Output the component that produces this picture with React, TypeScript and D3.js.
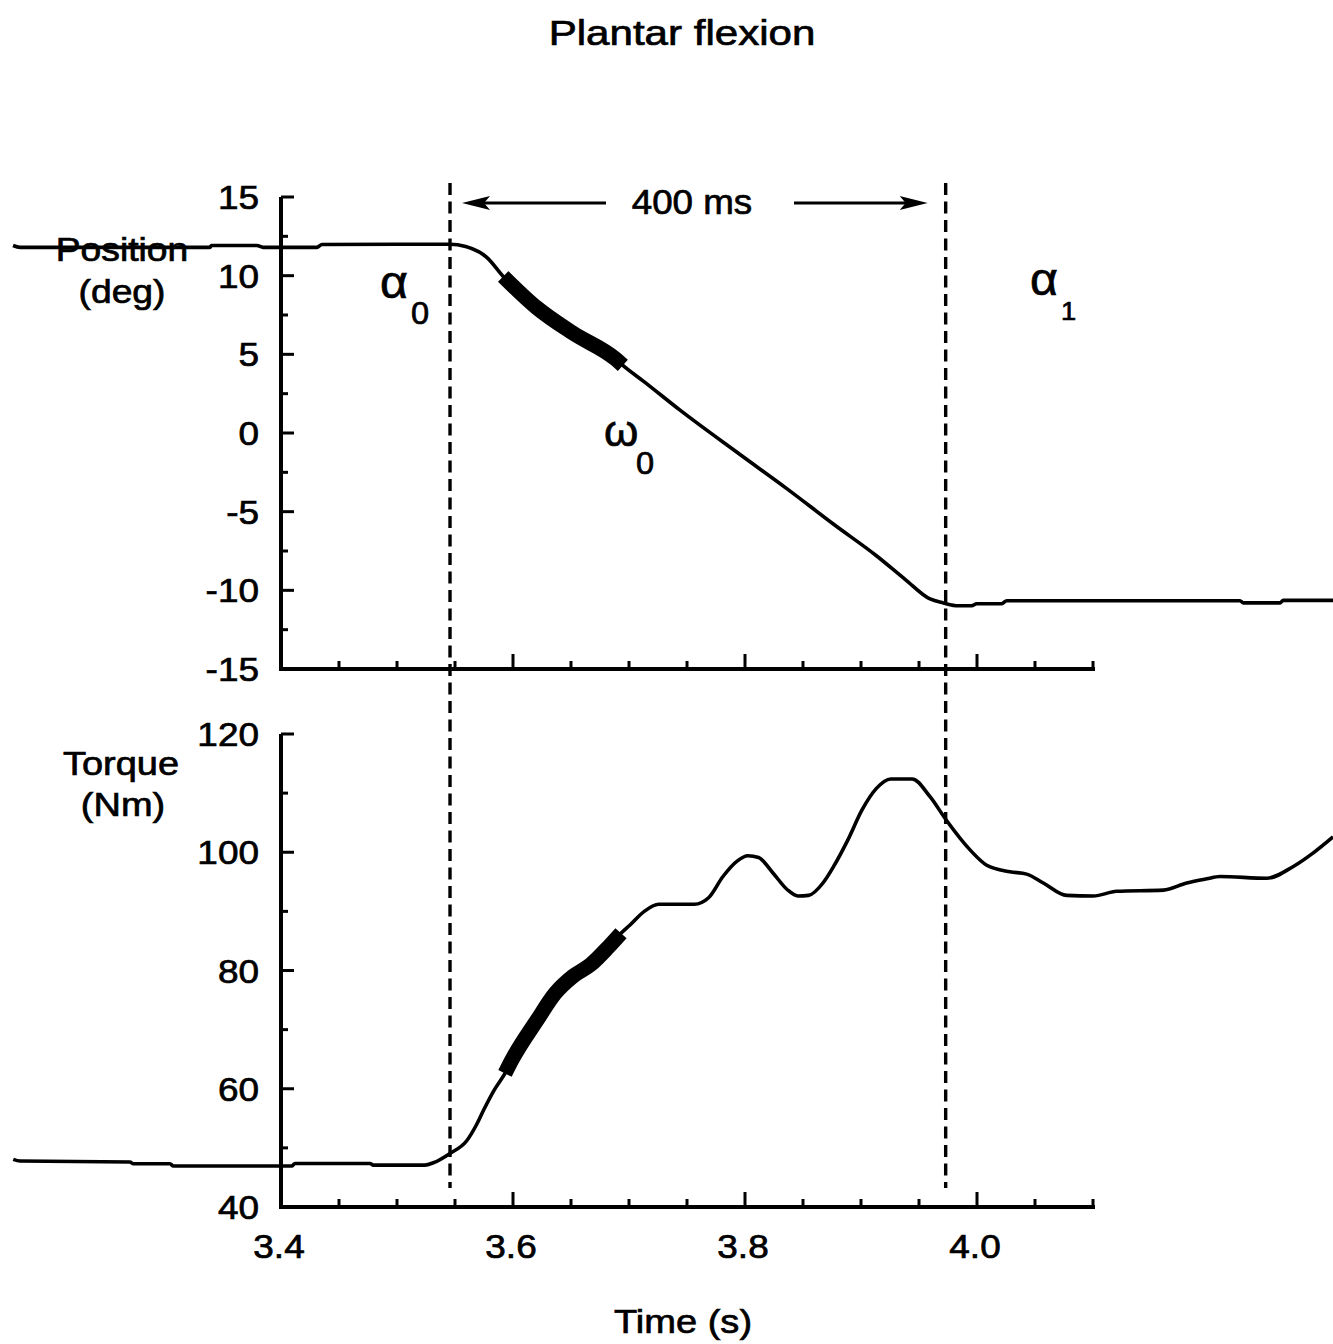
import React from "react";
import * as d3 from "d3";

// ---- data ----
const posTime = [3.169, 3.175, 3.3388, 3.340, 3.3793, 3.3845, 3.431, 3.4353, 3.5431, 3.5453, 3.5592, 3.5776, 3.5916, 3.6207, 3.6516, 3.6885, 3.6947, 3.7132, 3.744, 3.7963, 3.8363, 3.8764, 3.9133, 3.938, 3.9595, 3.971, 3.984, 3.9954, 3.9997, 4.0213, 4.0256, 4.2267, 4.2296, 4.2612, 4.264, 4.3069];
const posValue = [11.92, 11.8, 11.8, 11.92, 11.92, 11.8, 11.8, 11.98, 12.0, 12.0, 11.85, 11.15, 9.95, 7.95, 6.35, 4.7, 4.3, 3.25, 1.45, -1.4, -3.55, -5.8, -7.8, -9.3, -10.55, -10.8, -10.98, -10.98, -10.85, -10.85, -10.66, -10.66, -10.8, -10.8, -10.64, -10.64];

const torqueTime = [3.1692, 3.175, 3.2698, 3.2727, 3.3043, 3.3072, 3.4092, 3.4121, 3.4767, 3.4796, 3.5241, 3.5313, 3.5457, 3.5601, 3.5684, 3.5747, 3.5839, 3.5931, 3.5991, 3.6207, 3.6362, 3.6516, 3.667, 3.6824, 3.6931, 3.7009, 3.7132, 3.7255, 3.7563, 3.7686, 3.781, 3.7932, 3.8025, 3.8117, 3.8241, 3.8363, 3.8456, 3.8548, 3.8672, 3.8764, 3.8887, 3.901, 3.9133, 3.9256, 3.9441, 3.9595, 3.9733, 3.994, 4.0084, 4.0284, 4.0428, 4.0572, 4.0773, 4.1003, 4.1204, 4.1606, 4.1808, 4.198, 4.2095, 4.2497, 4.2727, 4.2899, 4.3069];
const torqueValue = [48.06, 47.77, 47.6, 47.32, 47.32, 46.93, 46.93, 47.37, 47.37, 47.09, 47.09, 47.48, 49.07, 51.2, 53.87, 56.4, 59.8, 62.6, 64.9, 71.6, 76.1, 79.0, 81.0, 84.0, 86.3, 87.7, 90.0, 91.2, 91.2, 92.3, 95.9, 98.5, 99.4, 99.1, 96.5, 93.7, 92.6, 92.7, 94.8, 97.6, 102.1, 107.2, 110.8, 112.4, 112.4, 109.4, 105.5, 100.4, 97.8, 96.7, 96.3, 94.8, 92.7, 92.6, 93.4, 93.6, 94.8, 95.5, 95.9, 95.6, 97.6, 99.9, 102.6];

const thickRange = [3.5915, 3.6948];
const markerTimes = [3.5457, 3.973];

const timeMajorTicks = [3.4, 3.6, 3.8, 4.0];
const timeMinorTicks = [3.45, 3.5, 3.55, 3.65, 3.7, 3.75, 3.85, 3.9, 3.95, 4.05, 4.1];
const posMajorTicks = [-15, -10, -5, 0, 5, 10, 15];
const posMinorTicks = [-12.5, -7.5, -2.5, 2.5, 7.5, 12.5];
const torqueMajorTicks = [40, 60, 80, 100, 120];
const torqueMinorTicks = [50, 70, 90, 110];

const FONT = "'Liberation Sans', Arial, Helvetica, sans-serif";

function T({ x, y, fs, s = 1.15, anchor = "start", children }: any) {
  return (
    <text
      transform={`translate(${x},${y}) scale(${s},1)`}
      fontSize={fs}
      textAnchor={anchor}
      fontFamily={FONT}
      fill="#000"
      stroke="#000"
      strokeWidth={0.7}
    >
      {children}
    </text>
  );
}

export default function App() {
  const W = 1333, H = 1344;
  const x = d3.scaleLinear().domain([3.4, 4.1]).range([281, 1093]);
  const yPos = d3.scaleLinear().domain([-15, 15]).range([669, 197]);
  const yTq = d3.scaleLinear().domain([40, 120]).range([1207, 734]);

  const posData = posTime.map((t, i) => [t, posValue[i]] as [number, number]);
  const tqData = torqueTime.map((t, i) => [t, torqueValue[i]] as [number, number]);

  const linePos = d3.line<[number, number]>().x(d => x(d[0])).y(d => yPos(d[1])).curve(d3.curveMonotoneX);
  const lineTq = d3.line<[number, number]>().x(d => x(d[0])).y(d => yTq(d[1])).curve(d3.curveMonotoneX);

  const inThick = (d: [number, number]) => d[0] >= thickRange[0] - 1e-6 && d[0] <= thickRange[1] + 1e-6;
  const posThick = posData.filter(inThick);
  const tqThick = tqData.filter(inThick);

  const axisW = 4;
  const lineW = 3.6;

  const panel = (yScale: any, major: number[], minor: number[], fmt: (v: number) => string, showX: boolean) => {
    const [y0, y1] = yScale.range();
    return (
      <g>
        <line x1={281} x2={281} y1={y1} y2={y0 + axisW / 2} stroke="#000" strokeWidth={axisW} />
        {major.map(v => (
          <g key={"ma" + v}>
            <line x1={281} x2={294} y1={yScale(v)} y2={yScale(v)} stroke="#000" strokeWidth={3} />
            <T x={259} y={yScale(v) + 12} fs={33} s={1.12} anchor="end">{fmt(v)}</T>
          </g>
        ))}
        {minor.map(v => (
          <line key={"mi" + v} x1={281} x2={288} y1={yScale(v)} y2={yScale(v)} stroke="#000" strokeWidth={3} />
        ))}
        <line x1={279} x2={1095} y1={y0} y2={y0} stroke="#000" strokeWidth={axisW} />
        {timeMajorTicks.filter(t => t > 3.4).map(t => (
          <line key={"xt" + t} x1={x(t)} x2={x(t)} y1={y0} y2={y0 - 15} stroke="#000" strokeWidth={3} />
        ))}
        {timeMinorTicks.map(t => (
          <line key={"xm" + t} x1={x(t)} x2={x(t)} y1={y0} y2={y0 - 8} stroke="#000" strokeWidth={3} />
        ))}
        {showX && timeMajorTicks.map(t => (
          <T key={"xl" + t} x={x(t) - 2} y={y0 + 51} fs={33} s={1.12} anchor="middle">{t.toFixed(1)}</T>
        ))}
      </g>
    );
  };

  const arrowY = 203;
  const leftTip = x(markerTimes[0]) + 12;
  const rightTip = x(markerTimes[1]) - 18;

  return (
    <svg width={W} height={H} viewBox={`0 0 ${W} ${H}`} style={{ display: "block", position: "absolute", left: 0, top: 0, background: "#fff" }}>
      <rect x={0} y={0} width={W} height={H} fill="#fff" />
      <T x={682} y={45} fs={36} s={1.17} anchor="middle">Plantar flexion</T>

      <T x={122} y={261} fs={33} s={1.13} anchor="middle">Position</T>
      <T x={122} y={303} fs={33} s={1.13} anchor="middle">(deg)</T>
      <T x={121} y={775} fs={33} s={1.15} anchor="middle">Torque</T>
      <T x={123} y={816} fs={33} s={1.15} anchor="middle">(Nm)</T>
      <T x={683} y={1333} fs={34} s={1.12} anchor="middle">Time (s)</T>

      {panel(yPos, posMajorTicks, posMinorTicks, v => String(v), false)}
      {panel(yTq, torqueMajorTicks, torqueMinorTicks, v => String(v), true)}

      {markerTimes.map(t => (
        <line key={"d" + t} x1={x(t)} x2={x(t)} y1={183} y2={1188} stroke="#000" strokeWidth={3.4} strokeDasharray="12 6.5" />
      ))}

      <line x1={leftTip + 10} x2={606} y1={arrowY} y2={arrowY} stroke="#000" strokeWidth={3} />
      <polygon points={`${leftTip},${arrowY} ${leftTip + 28},${arrowY - 7} ${leftTip + 22},${arrowY} ${leftTip + 28},${arrowY + 7}`} fill="#000" />
      <line x1={794} x2={rightTip - 10} y1={arrowY} y2={arrowY} stroke="#000" strokeWidth={3} />
      <polygon points={`${rightTip},${arrowY} ${rightTip - 28},${arrowY - 7} ${rightTip - 22},${arrowY} ${rightTip - 28},${arrowY + 7}`} fill="#000" />
      <T x={692} y={214} fs={35} s={1.05} anchor="middle">400 ms</T>

      <T x={380} y={298} fs={46} s={1.05}>α</T>
      <T x={411} y={324} fs={31} s={1.05}>0</T>
      <T x={604} y={446} fs={44} s={1.0}>ω</T>
      <T x={636} y={474} fs={31} s={1.05}>0</T>
      <T x={1030} y={295} fs={46} s={1.05}>α</T>
      <T x={1061} y={320} fs={26} s={1.05}>1</T>

      <path d={linePos(posData) || ""} fill="none" stroke="#000" strokeWidth={lineW} strokeLinejoin="round" />
      <path d={linePos(posThick) || ""} fill="none" stroke="#000" strokeWidth={15} strokeLinecap="butt" />
      <path d={lineTq(tqData) || ""} fill="none" stroke="#000" strokeWidth={lineW} strokeLinejoin="round" />
      <path d={lineTq(tqThick) || ""} fill="none" stroke="#000" strokeWidth={15} strokeLinecap="butt" />
    </svg>
  );
}
